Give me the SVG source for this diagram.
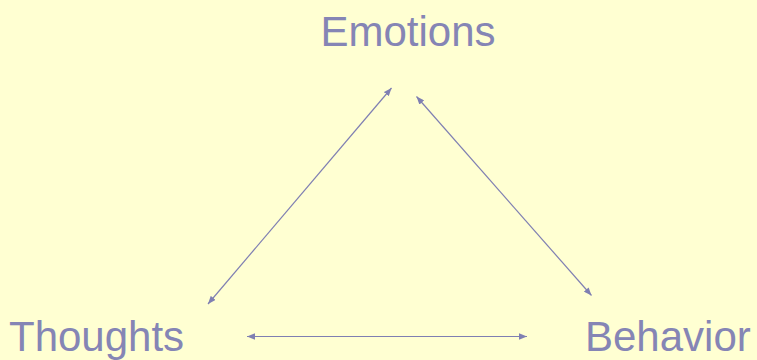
<svg xmlns="http://www.w3.org/2000/svg" width="757" height="360" viewBox="0 0 757 360">
<style>
.lbl{font-family:"Liberation Sans",Arial,sans-serif;font-size:42px;fill:#8585B5}
.con{stroke:#7F7FB2;stroke-width:1.2;fill:none;marker-start:url(#ah);marker-end:url(#ah)}
</style>
<defs>
<marker id="ah" viewBox="0 0 10 8" refX="10" refY="4" markerWidth="8" markerHeight="6.4" markerUnits="userSpaceOnUse" orient="auto-start-reverse">
<path d="M0,0 L10,4 L0,8 Z" fill="#7F7FB2"/>
</marker>
</defs>
<rect width="757" height="360" fill="#FFFFD2"/>
<g id="emotions"><text class="lbl" x="408" y="46" text-anchor="middle">Emotions</text></g>
<g id="thoughts"><text class="lbl" x="9" y="351">Thoughts</text></g>
<g id="behavior"><text class="lbl" x="585" y="351">Behavior</text></g>
<g id="connectors">
<line class="con" x1="208" y1="304" x2="391.5" y2="88"/>
<line class="con" x1="416.5" y1="96.5" x2="591.5" y2="295.5"/>
<line class="con" x1="247" y1="336.5" x2="527" y2="336.5"/>
</g>
</svg>
